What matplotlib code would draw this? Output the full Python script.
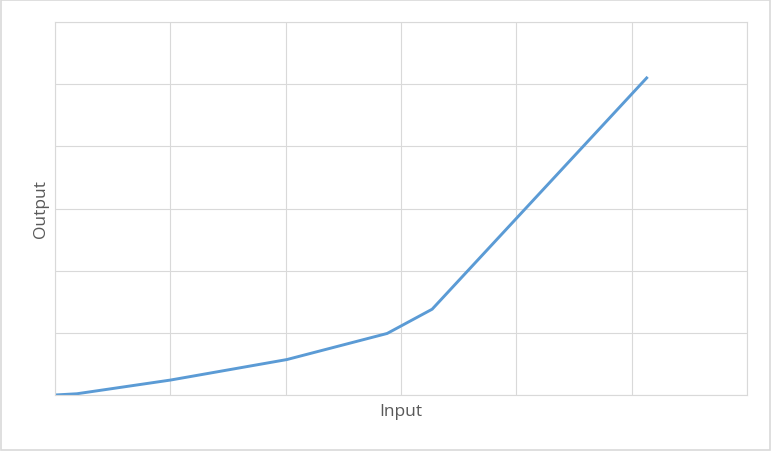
import matplotlib.pyplot as plt
from matplotlib.patches import Rectangle

# values
inputs = [0, 0.19, 1.0, 2.01, 2.88, 3.27, 5.13]
outputs = [0, 0.02, 0.24, 0.57, 0.99, 1.38, 5.1]

line_color = '#5b9bd5'
grid_color = '#d9d9d9'
text_color = '#595959'

fig = plt.figure(figsize=(7.72, 4.52), dpi=100)
ax = fig.add_axes([55 / 772, 56 / 452, 692 / 772, 373 / 452])

ax.plot(inputs, outputs, color=line_color, linewidth=2.1, solid_joinstyle='round')

ax.set_xlim(0, 6)
ax.set_ylim(0, 6)
ax.set_xticks(range(7))
ax.set_yticks(range(7))
ax.tick_params(length=0, labelbottom=False, labelleft=False)
ax.grid(True, color=grid_color, linewidth=0.8)
ax.set_axisbelow(True)
for s in ax.spines.values():
    s.set_color(grid_color)
    s.set_linewidth(0.8)

ax.set_xlabel('Input', fontsize=12.5, color=text_color, family='Open Sans', labelpad=6)
ax.set_ylabel('Output', fontsize=12.5, color=text_color, family='Open Sans', labelpad=4)

# light outer border like the chart area
fig.patches.append(Rectangle((0.001, 0.002), 0.997, 0.996, transform=fig.transFigure,
                             fill=False, edgecolor=grid_color, linewidth=1.2))

fig.savefig('out.png', dpi=100)
